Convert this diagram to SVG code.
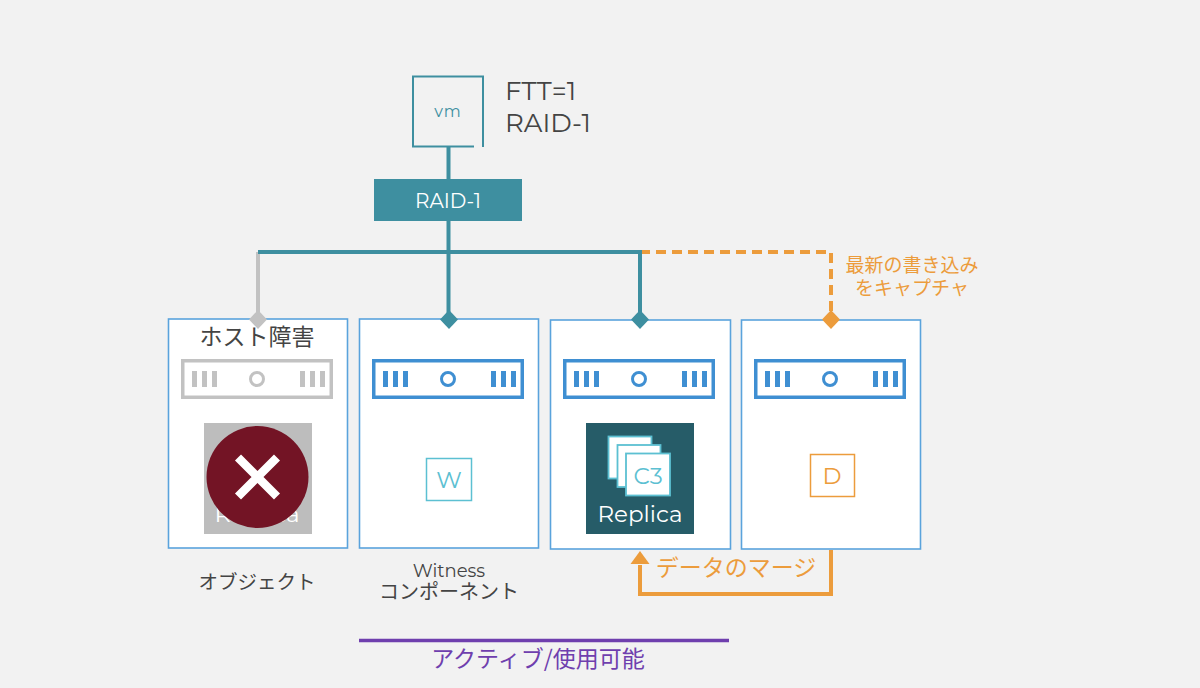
<svg xmlns="http://www.w3.org/2000/svg" xmlns:xlink="http://www.w3.org/1999/xlink" width="1200" height="688" viewBox="0 0 1200 688">
<style>
.t{font-family:"Noto Sans CJK JP","Noto Sans",sans-serif}
.l{font-family:"Montserrat","Open Sans","Noto Sans",sans-serif}
.host{fill:#fff;stroke:#5aa3dc;stroke-width:1.6}
.c{fill:none;stroke-width:4}
.teal{stroke:#3e8fa0}
.or{stroke:#ec9c3c}
</style>
<defs>
<g id="srv">
<rect x="1.75" y="1.75" width="148.5" height="36.5" fill="none" stroke-width="3.5" stroke="currentColor"/>
<g fill="currentColor"><rect x="11" y="12" width="5" height="16"/><rect x="21" y="12" width="5" height="16"/><rect x="31" y="12" width="5" height="16"/><rect x="119" y="12" width="5" height="16"/><rect x="129" y="12" width="5" height="16"/><rect x="139" y="12" width="5" height="16"/></g>
<circle cx="76" cy="20" r="6.5" fill="none" stroke="currentColor" stroke-width="3"/>
</g>
</defs>
<rect width="1200" height="688" fill="#f2f2f2"/>
<g id="host1"><rect class="host" x="168.500" y="319" width="179" height="229"/>
<text class="t" x="257" y="345" font-size="23" fill="#444" text-anchor="middle">ホスト障害</text>
<use xlink:href="#srv" x="181" y="359" color="#c2c2c2"/>
<rect x="204" y="423" width="108" height="111" fill="#bdbdbd"/>
<text class="l" x="257" y="522" font-size="23" fill="#fff" text-anchor="middle">Replica</text>
<circle cx="257.500" cy="477" r="51" fill="#731425"/>
<path d="M238 457.500L277 496.500M277 457.500L238 496.500" stroke="#fff" stroke-width="8.500" fill="none"/>
</g>
<g id="host2"><rect class="host" x="359.500" y="319" width="179" height="229"/>
<use xlink:href="#srv" x="372" y="359" color="#3f8fd2"/>
<rect x="426.500" y="458.500" width="45" height="42" fill="#fff" stroke="#5cc0d2" stroke-width="1.500"/>
<text class="l" x="449" y="488" font-size="23" fill="#5cc0d2" text-anchor="middle">W</text>
</g>
<g id="host3"><rect class="host" x="550.500" y="320" width="180" height="229"/>
<use xlink:href="#srv" x="563" y="359" color="#3f8fd2"/>
<rect x="586" y="423" width="108" height="111" fill="#265c68"/>
<rect x="608.500" y="436.500" width="43" height="42" fill="#fff" stroke="#5cc0d2" stroke-width="1.800"/>
<rect x="617.500" y="445" width="43" height="42" fill="#fff" stroke="#5cc0d2" stroke-width="1.800"/>
<rect x="626" y="453.500" width="44" height="42" fill="#fff" stroke="#5cc0d2" stroke-width="1.800"/>
<text class="l" x="648" y="484" font-size="23" fill="#5cc0d2" text-anchor="middle">C3</text>
<text class="l" x="640" y="522" font-size="23" fill="#fff" text-anchor="middle">Replica</text>
</g>
<g id="host4"><rect class="host" x="741.500" y="320" width="179" height="229"/>
<use xlink:href="#srv" x="754" y="359" color="#3f8fd2"/>
<rect x="810.500" y="454.500" width="44" height="42" fill="#fff" stroke="#ec9c3c" stroke-width="1.500"/>
<text class="l" x="832" y="484" font-size="23" fill="#ec9c3c" text-anchor="middle">D</text>
</g>
<g id="vm"><path d="M483 147V76.500H413V146.500H474" fill="none" stroke="#3e8fa0" stroke-width="2"/>
<text class="l" x="448" y="117" font-size="16" letter-spacing="1" fill="#3e8fa0" text-anchor="middle">vm</text></g>
<g id="raid"><rect x="374" y="179" width="148" height="42" fill="#3e8fa0"/>
<text class="l" x="448" y="208" font-size="20" fill="#fff" text-anchor="middle">RAID-1</text></g>
<g id="connectors">
<path class="c" stroke="#c2c2c2" d="M258 252V316"/>
<path class="c or" stroke-dasharray="10 6" d="M640 252H831V312" stroke-linejoin="round"/>
<path class="c teal" d="M448.500 147V179M448.500 221V316M258 252H640M640 250V316"/>
<path d="M258 310l9 9.500-9 9.500-9-9.500z" fill="#c2c2c2"/>
<path d="M449 310l9 9.500-9 9.500-9-9.500z" fill="#3e8fa0"/>
<path d="M640 310l9 9.500-9 9.500-9-9.500z" fill="#3e8fa0"/>
<path d="M831 310l9 9.500-9 9.500-9-9.500z" fill="#ec9c3c"/>
<path class="c or" d="M831 550V594H640V565"/>
<path d="M640 551l9.500 13h-19z" fill="#ec9c3c"/>
</g>
<g id="labels">
<text class="l" x="505" y="100" font-size="26" fill="#444">FTT=1</text>
<text class="l" x="505" y="132" font-size="26" fill="#444">RAID-1</text>
<text class="t" x="912" y="272" font-size="19" fill="#ec9c3c" text-anchor="middle">最新の書き込み</text>
<text class="t" x="912" y="295" font-size="19" fill="#ec9c3c" text-anchor="middle">をキャプチャ</text>
<text class="t" x="257" y="589" font-size="19.500" fill="#444" text-anchor="middle">オブジェクト</text>
<text class="l" x="449" y="577" font-size="18" fill="#444" text-anchor="middle">Witness</text>
<text class="t" x="449" y="599" font-size="20" fill="#444" text-anchor="middle">コンポーネント</text>
<text class="t" x="736" y="576" font-size="23" fill="#ec9c3c" text-anchor="middle">データのマージ</text>
<text class="t" x="538" y="667" font-size="23" fill="#6f3fae" text-anchor="middle">アクティブ/使用可能</text>
<path d="M359 640.500H729" stroke="#6f3fae" stroke-width="3.500"/>
</g>
</svg>
